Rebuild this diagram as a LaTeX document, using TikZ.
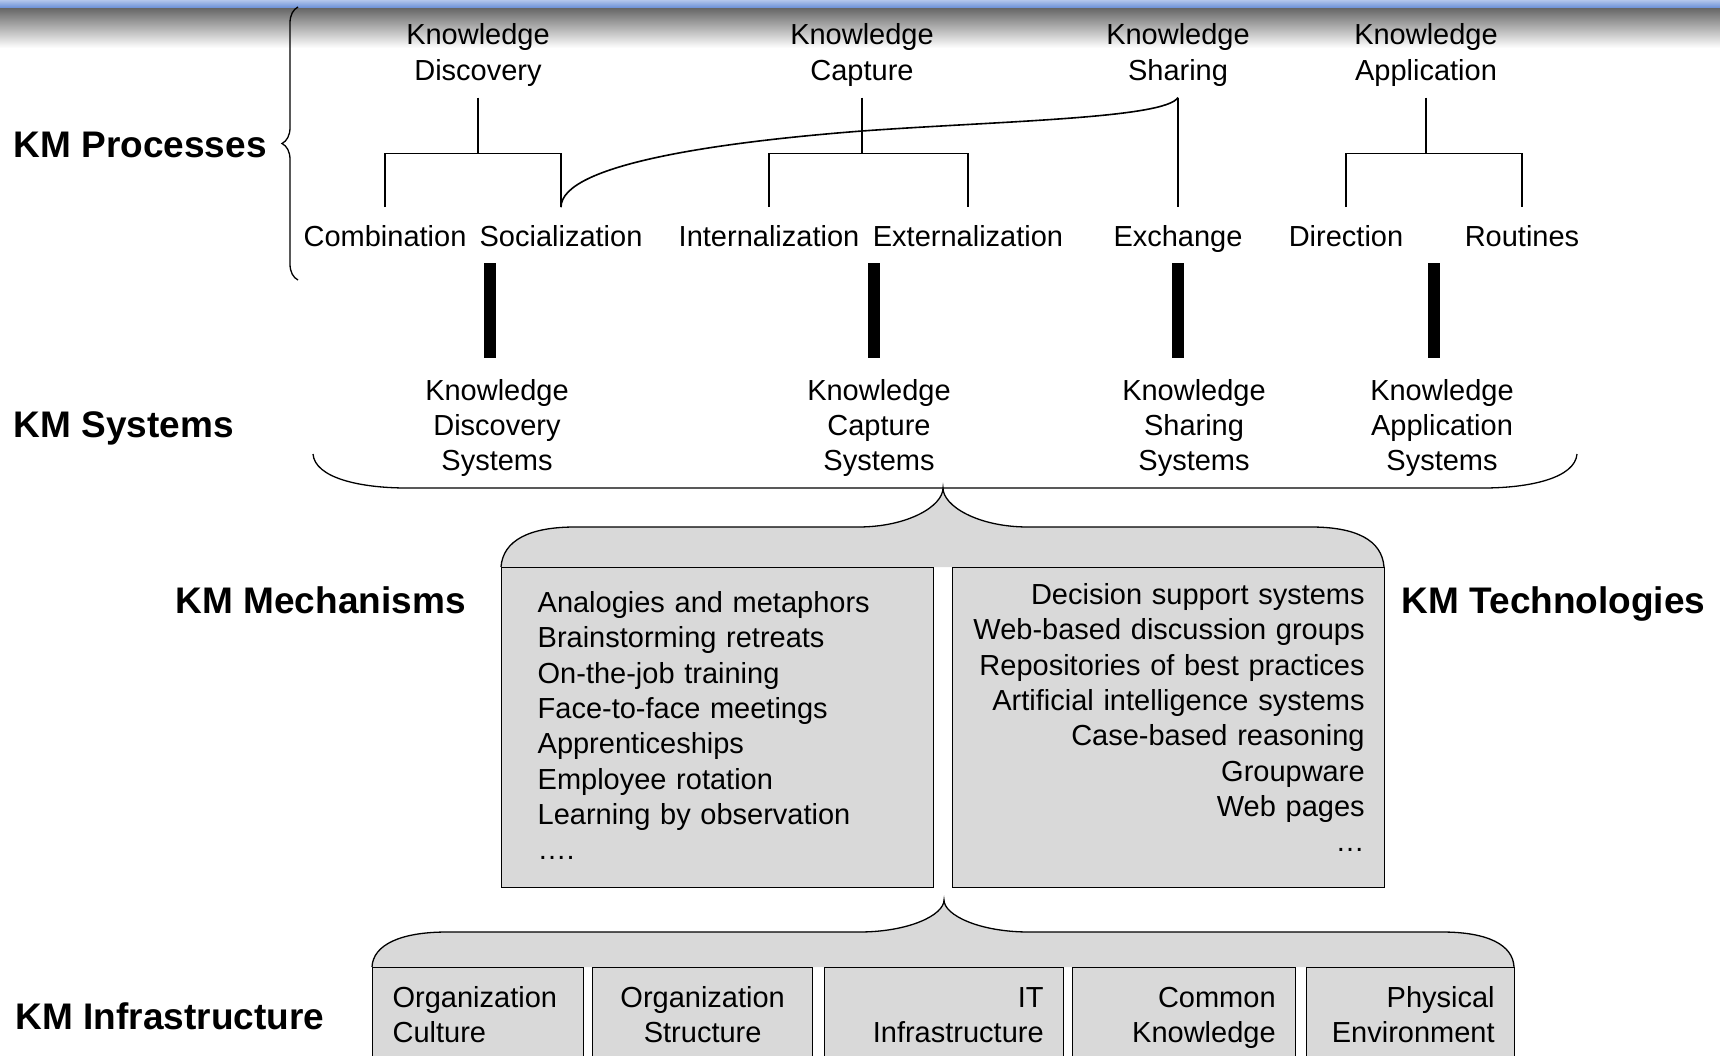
\documentclass[tikz,border=0pt]{standalone}
\usepackage{fontspec}
\setmainfont{Liberation Sans}
\usetikzlibrary{decorations.pathreplacing}

\definecolor{boxgray}{RGB}{217,217,217}
\definecolor{bandtop}{RGB}{178,198,236}
\definecolor{bandbot}{RGB}{104,142,214}

\begin{document}
\begin{tikzpicture}[x=1pt,y=-1pt,line width=1.6pt,
  txt/.style={font=\fontsize{29}{35.3}\selectfont},
  lvl/.style={font=\fontsize{37}{44}\selectfont\bfseries,anchor=base west,inner sep=0pt},
  proc/.style={font=\fontsize{29}{36.2}\selectfont,align=center,inner xsep=0pt,inner ysep=10pt},
  sub/.style={txt,anchor=base,inner xsep=0pt,inner ysep=17pt,text height=21pt,text depth=6pt},
  sys/.style={txt,align=center,inner xsep=0pt,inner ysep=20pt},
  pillar/.style={line width=12pt},
  hair/.style={line width=1.3pt},
  panel/.style={txt,draw,hair,fill=boxgray,anchor=north west,text height=21pt},
  infra/.style={panel,inner xsep=20pt,inner ysep=18.5pt,text depth=80pt}]

\clip (0,0) rectangle (1720,1055);
\fill[white] (0,0) rectangle (1720,1055);
\shade[top color=bandtop,bottom color=bandbot] (0,0) rectangle (1720,8);
\shade[top color=black!60,middle color=black!15,bottom color=white] (0,8) rectangle (1720,48);

% left column
\node[lvl] (lproc) at (13,157) {KM Processes};
\node[lvl] (lsys) at (13,437) {KM Systems};
\node[lvl] (lmech) at (175,613) {KM Mechanisms};
\node[lvl] (ltech) at (1401,613) {KM Technologies};
\node[lvl] (linfra) at (15,1029) {KM Infrastructure};

\draw[hair,decorate,decoration={brace,amplitude=16pt}] (298,280) -- (298,7);

% processes
\node[proc] (kd) at (478,55.1) {Knowledge\\Discovery};
\node[proc] (kc) at (862,55.1) {Knowledge\\Capture};
\node[proc] (ks) at (1178,55.1) {Knowledge\\Sharing};
\node[proc] (ka) at (1426,55.1) {Knowledge\\Application};

\node[sub] (comb) at (385,246) {Combination};
\node[sub] (soc) at (561,246) {Socialization};
\node[sub] (intl) at (769,246) {Internalization};
\node[sub] (extl) at (968,246) {Externalization};
\node[sub] (exch) at (1178,246) {Exchange};
\node[sub] (dir) at (1346,246) {Direction};
\node[sub] (rout) at (1522,246) {Routines};

\foreach \p/\a/\b in {kd/comb/soc,kc/intl/extl,ka/dir/rout}{
  \draw (\p.south) -- ++(0,56) coordinate (\p-j);
  \draw (\a.north) |- (\p-j) -| (\b.north);
}
\draw (ks.south) -- (exch.north);
\coordinate (swing) at (862,131);
\draw (ks.south) .. controls +(-13,21) and +(138,-10) .. (swing)
  .. controls +(-142,11) and +(0,-43) .. (soc.north);

% systems
\node[sys] (kds) at (497,427.8) {Knowledge\\Discovery\\Systems};
\node[sys] (kcs) at (879,427.8) {Knowledge\\Capture\\Systems};
\node[sys] (kss) at (1194,427.8) {Knowledge\\Sharing\\Systems};
\node[sys] (kas) at (1442,427.8) {Knowledge\\Application\\Systems};

\foreach \x/\s in {490/kds,874/kcs,1178/kss,1434/kas}{
  \coordinate (\s-top) at (\x,263);
  \draw[pillar] (\s-top) -- (\s-top |- \s.north);
}

\draw[hair] (313,454) .. controls (315,478) and (360,488) .. (407,488)
  -- (1483,488) .. controls (1530,488) and (1575,478) .. (1577,454);

% mechanisms and technologies
\path[save path=\mechtop] (501,567) .. controls (503,540) and (530,527) .. (575,527)
  -- (858,527) .. controls (908,527) and (943,506) .. (943,488)
  .. controls (943,506) and (978,527) .. (1028,527)
  -- (1311,527) .. controls (1356,527) and (1382,540) .. (1384,567);
\fill[boxgray,use path=\mechtop];
\draw[hair,use path=\mechtop];

\node[panel,inner xsep=36pt,inner ysep=24pt,text width=360pt,text depth=251pt,align=left] (mech) at (501,567)
  {Analogies and metaphors\\Brainstorming retreats\\On-the-job training\\Face-to-face meetings\\Apprenticeships\\Employee rotation\\Learning by observation\\….};
\node[panel,inner xsep=20pt,inner ysep=16pt,text width=392pt,text depth=267pt,align=right] (tech) at (952,567)
  {Decision support systems\\Web-based discussion groups\\Repositories of best practices\\Artificial intelligence systems\\Case-based reasoning\\Groupware\\Web pages\\…};

% infrastructure
\path[save path=\infratop] (372,967) .. controls (373,945) and (400,932) .. (447,932)
  -- (859,932) .. controls (909,932) and (944,915) .. (944,900)
  .. controls (944,915) and (979,932) .. (1029,932)
  -- (1442,932) .. controls (1488,932) and (1513,945) .. (1514,967);
\fill[boxgray,use path=\infratop];
\draw[hair,use path=\infratop];

\node[infra,text width=171pt,align=left] (oc) at (372,967) {Organization\\Culture};
\node[infra,text width=180pt,align=center] (os) at (592,967) {Organization\\Structure};
\node[infra,text width=199pt,align=right] (it) at (824,967) {IT\\Infrastructure};
\node[infra,text width=183pt,align=right] (ck) at (1072,967) {Common\\Knowledge};
\node[infra,text width=168pt,align=right] (pe) at (1306,967) {Physical\\Environment};
\end{tikzpicture}
\end{document}
